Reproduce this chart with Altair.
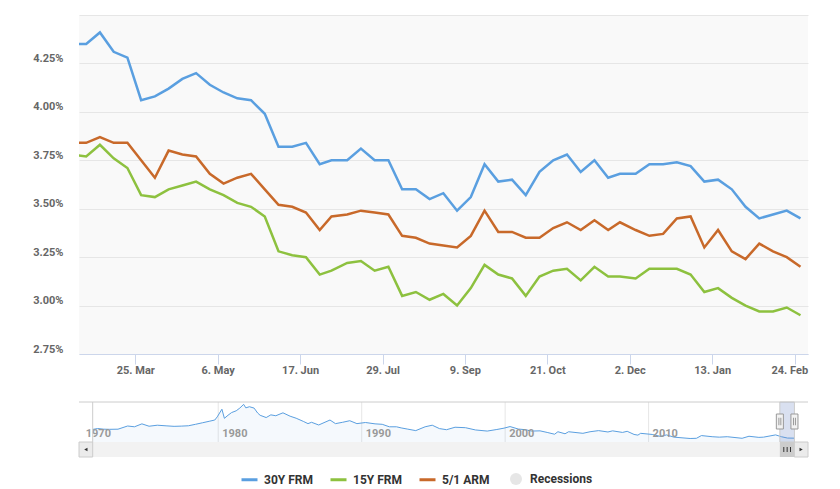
import altair as alt
import pandas as pd

# ---------------- data ----------------
week_dates = [
    "2019-02-21", "2019-02-28", "2019-03-07", "2019-03-14", "2019-03-21", "2019-03-28",
    "2019-04-04", "2019-04-11", "2019-04-18", "2019-04-25", "2019-05-02", "2019-05-09",
    "2019-05-16", "2019-05-23", "2019-05-30", "2019-06-06", "2019-06-13", "2019-06-20",
    "2019-06-27", "2019-07-03", "2019-07-11", "2019-07-18", "2019-07-25", "2019-08-01",
    "2019-08-08", "2019-08-15", "2019-08-22", "2019-08-29", "2019-09-05", "2019-09-12",
    "2019-09-19", "2019-09-26", "2019-10-03", "2019-10-10", "2019-10-17", "2019-10-24",
    "2019-10-31", "2019-11-07", "2019-11-14", "2019-11-21", "2019-11-27", "2019-12-05",
    "2019-12-12", "2019-12-19", "2019-12-26", "2020-01-02", "2020-01-09", "2020-01-16",
    "2020-01-23", "2020-01-30", "2020-02-06", "2020-02-13", "2020-02-20", "2020-02-27",
]
rate_30y = [
    4.35, 4.35, 4.41, 4.31, 4.28, 4.06, 4.08, 4.12, 4.17, 4.20, 4.14, 4.10,
    4.07, 4.06, 3.99, 3.82, 3.82, 3.84, 3.73, 3.75, 3.75, 3.81, 3.75, 3.75,
    3.60, 3.60, 3.55, 3.58, 3.49, 3.56, 3.73, 3.64, 3.65, 3.57, 3.69, 3.75,
    3.78, 3.69, 3.75, 3.66, 3.68, 3.68, 3.73, 3.73, 3.74, 3.72, 3.64, 3.65,
    3.60, 3.51, 3.45, 3.47, 3.49, 3.45,
]
rate_15y = [
    3.78, 3.77, 3.83, 3.76, 3.71, 3.57, 3.56, 3.60, 3.62, 3.64, 3.60, 3.57,
    3.53, 3.51, 3.46, 3.28, 3.26, 3.25, 3.16, 3.18, 3.22, 3.23, 3.18, 3.20,
    3.05, 3.07, 3.03, 3.06, 3.00, 3.09, 3.21, 3.16, 3.14, 3.05, 3.15, 3.18,
    3.19, 3.13, 3.20, 3.15, 3.15, 3.14, 3.19, 3.19, 3.19, 3.16, 3.07, 3.09,
    3.04, 3.00, 2.97, 2.97, 2.99, 2.95,
]
rate_51arm = [
    3.84, 3.84, 3.87, 3.84, 3.84, 3.75, 3.66, 3.80, 3.78, 3.77, 3.68, 3.63,
    3.66, 3.68, 3.60, 3.52, 3.51, 3.48, 3.39, 3.46, 3.47, 3.49, 3.48, 3.47,
    3.36, 3.35, 3.32, 3.31, 3.30, 3.36, 3.49, 3.38, 3.38, 3.35, 3.35, 3.40,
    3.43, 3.39, 3.44, 3.39, 3.43, 3.39, 3.36, 3.37, 3.45, 3.46, 3.30, 3.39,
    3.28, 3.24, 3.32, 3.28, 3.25, 3.20,
]
series_names = ["30Y FRM", "15Y FRM", "5/1 ARM"]
series_colors = ["#5a9fe0", "#8dc13f", "#c8692a"]
recession_names = ["Recessions"]
recession_colors = ["#e6e6e6"]

x_tick_dates = ["2019-03-25", "2019-05-06", "2019-06-17", "2019-07-29", "2019-09-09",
                "2019-10-21", "2019-12-02", "2020-01-13", "2020-02-24"]
y_tick_values = [2.75, 3.00, 3.25, 3.50, 3.75, 4.00, 4.25, 4.50]

# visible window of the main chart (selected range in the navigator)
view_start = "2019-02-24T08:00:00"
view_end = "2020-03-01T20:00:00"

# navigator: 30Y FRM long history
nav_dates = [
    "1971-04-02", "1971-08-06", "1972-01-07", "1972-06-02", "1973-01-05", "1973-09-07",
    "1974-03-01", "1974-09-06", "1975-03-07", "1975-10-03", "1976-06-04", "1976-12-03",
    "1977-06-03", "1977-12-02", "1978-06-02", "1978-12-01", "1979-06-01", "1979-10-05",
    "1979-12-07", "1980-04-04", "1980-06-06", "1980-09-05", "1980-12-05", "1981-04-03",
    "1981-07-03", "1981-10-09", "1981-12-04", "1982-03-05", "1982-07-02", "1982-10-01",
    "1982-12-03", "1983-05-06", "1983-09-02", "1984-01-06", "1984-07-06", "1985-01-04",
    "1985-06-07", "1985-12-06", "1986-04-04", "1986-07-04", "1987-01-02", "1987-10-16",
    "1988-03-04", "1988-09-02", "1989-03-03", "1989-09-01", "1990-04-06", "1990-12-07",
    "1991-06-07", "1991-12-06", "1992-06-05", "1992-10-02", "1993-03-05", "1993-10-08",
    "1994-06-03", "1994-12-02", "1995-06-02", "1995-12-01", "1996-07-05", "1997-03-28",
    "1997-12-05", "1998-10-02", "1999-06-04", "1999-12-03", "2000-05-05", "2000-12-01",
    "2001-06-01", "2001-11-02", "2002-06-07", "2002-12-06", "2003-06-13", "2003-09-05",
    "2004-03-05", "2004-06-04", "2005-06-03", "2005-12-02", "2006-07-07", "2007-03-02",
    "2007-06-29", "2008-03-07", "2008-07-04", "2008-12-26", "2009-04-03", "2009-06-12",
    "2010-04-02", "2010-11-05", "2011-04-01", "2011-10-07", "2012-11-23", "2013-05-03",
    "2013-09-06", "2014-06-06", "2014-12-05", "2015-06-26", "2016-07-08", "2016-12-30",
    "2017-09-08", "2018-01-05", "2018-11-08", "2019-04-04", "2019-09-05", "2020-02-27",
]
nav_30y = [
    7.33, 7.73, 7.44, 7.38, 7.44, 8.85,
    8.50, 9.80, 8.75, 9.20, 8.90, 8.70,
    8.80, 8.95, 9.60, 10.30, 11.00, 11.50,
    12.90, 16.30, 12.25, 13.60, 14.80, 15.60,
    16.80, 18.45, 16.90, 17.40, 16.80, 14.60,
    13.60, 12.60, 13.80, 13.40, 14.70, 13.20,
    12.30, 10.90, 9.90, 10.50, 9.30, 11.50,
    9.90, 10.50, 11.20, 9.90, 10.40, 9.80,
    9.60, 8.50, 8.50, 8.00, 7.50, 6.80,
    8.50, 9.20, 7.70, 7.20, 8.30, 8.10,
    7.10, 6.60, 7.30, 7.90, 8.60, 7.50,
    7.20, 6.60, 6.70, 6.00, 5.20, 6.30,
    5.40, 6.30, 5.60, 6.30, 6.80, 6.20,
    6.70, 6.00, 6.50, 5.10, 4.80, 5.60,
    5.10, 4.20, 4.90, 3.90, 3.31, 3.40,
    4.60, 4.10, 3.90, 4.10, 3.40, 4.30,
    3.80, 3.90, 4.90, 4.10, 3.50, 3.45,
]
nav_label_years = [1970, 1980, 1990, 2000, 2010]
nav_y_domain = [1.75, 19.5]

# ---------------- tables ----------------
rows = []
for name, vals in zip(series_names, [rate_30y, rate_15y, rate_51arm]):
    for d, v in zip(week_dates, vals):
        rows.append({"date": d + "T00:00:00", "series": name, "rate": v})
main_df = pd.DataFrame(rows)

nav_df = pd.DataFrame({"date": [d + "T00:00:00" for d in nav_dates], "rate": nav_30y})
years_df = pd.DataFrame({"year": [str(y) for y in nav_label_years],
                         "yr": nav_label_years,
                         "date": [f"{y}-01-01T00:00:00" for y in nav_label_years]})
mid = pd.Timestamp(view_start) + (pd.Timestamp(view_end) - pd.Timestamp(view_start)) / 2
sel_df = pd.DataFrame({"start": [view_start], "end": [view_end],
                       "mid": [mid.strftime("%Y-%m-%dT%H:%M:%S")]})
edge_df = pd.DataFrame({"date": [nav_dates[0] + "T00:00:00"]})
handles_df = pd.DataFrame({"date": [view_start, view_end]})
rec_df = pd.DataFrame({"name": recession_names})
one = pd.DataFrame({"a": [0]})


def dt(s):
    t = pd.Timestamp(s)
    return alt.DateTime(year=t.year, month=t.month, date=t.day, hours=t.hour, minutes=t.minute)


W, H = 729, 339
FONT = "Roboto"
NAV_RANGE_X = [13.7, 715.3]
NAV_RANGE_Y = [427, 387]


def nav_x(field="date:T", clamp=False):
    return alt.X(field, axis=None,
                 scale=alt.Scale(domain=[dt(nav_dates[0]), dt(nav_dates[-1])],
                                 range=NAV_RANGE_X, clamp=clamp))


def nav_yscale():
    return alt.Scale(domain=nav_y_domain, range=NAV_RANGE_Y, zero=False, nice=False)


LEG_COMMON = dict(title=None, orient="none", direction="horizontal",
                  labelFont=FONT, labelFontSize=12, labelFontWeight="bold",
                  labelColor="#333333")

# ---------------- main chart ----------------
lines = alt.Chart(main_df).mark_line(strokeWidth=2.5, clip=True).encode(
    x=alt.X("date:T",
            scale=alt.Scale(domain=[dt(view_start), dt(view_end)]),
            axis=alt.Axis(values=[dt(d) for d in x_tick_dates], format="%-d. %b",
                          title=None, grid=False, domainColor="#ccd6eb",
                          tickColor="#ccd6eb", tickSize=10, labelPadding=0,
                          labelOverlap=False, labelFlush=15, labelFlushOffset=13)),
    y=alt.Y("rate:Q",
            scale=alt.Scale(domain=[2.75, 4.5], zero=False, nice=False),
            axis=alt.Axis(values=y_tick_values,
                          labelExpr="datum.value >= 4.5 ? '' : format(datum.value, '.2f') + '%'",
                          title=None, grid=True, gridColor="#e6e6e6", domain=False,
                          ticks=False, tickSize=0, labelPadding=16,
                          labelBaseline="alphabetic", labelOffset=-2,
                          labelOverlap=False)),
    color=alt.Color("series:N", scale=alt.Scale(domain=series_names, range=series_colors),
                    legend=alt.Legend(legendX=161, legendY=455, symbolType="stroke",
                                      symbolSize=256, symbolStrokeWidth=3,
                                      labelOffset=5, columnPadding=11, **LEG_COMMON)),
    order=alt.Order("date:T"),
)

# legend-only entry for recessions (no recession inside the shown window)
recessions = alt.Chart(rec_df).mark_point(filled=True, opacity=1, size=144).encode(
    x=alt.value(-500), y=alt.value(-500),
    fill=alt.Fill("name:N", scale=alt.Scale(domain=recession_names, range=recession_colors),
                  legend=alt.Legend(legendX=431, legendY=458, symbolType="circle",
                                    symbolSize=144, symbolStrokeWidth=0,
                                    labelOffset=8, **LEG_COMMON)),
)

# ---------------- navigator ----------------
nav_area = alt.Chart(nav_df).mark_area(color="#5a9fe0", opacity=0.06).encode(
    x=nav_x(),
    y=alt.Y("rate:Q", scale=nav_yscale(), axis=None),
    y2=alt.Y2(datum=nav_y_domain[0]),
)
nav_line = alt.Chart(nav_df).mark_line(color="#5a9fe0", strokeWidth=1).encode(
    x=nav_x(),
    y=alt.Y("rate:Q", scale=nav_yscale(), axis=None),
)
nav_grid = alt.Chart(years_df).transform_filter("datum.yr > 1971").mark_rule(
    color="#e6e6e6", strokeWidth=1).encode(
    x=nav_x(),
    y=alt.Y(datum=nav_y_domain[1], type="quantitative", scale=nav_yscale(), axis=None),
    y2=alt.Y2(datum=nav_y_domain[0]),
)
nav_edge = alt.Chart(edge_df).mark_rule(color="#cccccc", strokeWidth=1).encode(
    x=nav_x(),
    y=alt.Y(datum=nav_y_domain[1], type="quantitative", scale=nav_yscale(), axis=None),
    y2=alt.Y2(datum=nav_y_domain[0]),
)
nav_top = alt.Chart(one).mark_rule(color="#cccccc", strokeWidth=1).encode(
    x=alt.value(0), x2=alt.value(W), y=alt.value(NAV_RANGE_Y[1]))
nav_labels = alt.Chart(years_df).transform_filter("datum.yr > 1971").mark_text(
    align="left", baseline="middle", dx=4, font=FONT, fontSize=11, fontWeight="bold",
    color="#999999").encode(x=nav_x(), y=alt.value(419), text=alt.Text("year:N"))
nav_label_first = alt.Chart(years_df).transform_filter("datum.yr < 1971").mark_text(
    align="left", baseline="middle", dx=-7, font=FONT, fontSize=11, fontWeight="bold",
    color="#999999").encode(x=nav_x(clamp=True), y=alt.value(419), text=alt.Text("year:N"))

mask = alt.Chart(sel_df).mark_rect(fill="#6685c2", fillOpacity=0.25, stroke="#cccccc",
                                   strokeWidth=1).encode(
    x=nav_x("start:T"), x2="end:T",
    y=alt.Y(datum=nav_y_domain[1], type="quantitative", scale=nav_yscale(), axis=None),
    y2=alt.Y2(datum=nav_y_domain[0]),
)

# scrollbar
track = alt.Chart(one).mark_rect(fill="#f2f2f2").encode(
    x=alt.value(0), x2=alt.value(W), y=alt.value(427), y2=alt.value(442))
btn_left = alt.Chart(one).mark_rect(fill="#ebebeb", stroke="#cccccc", strokeWidth=1).encode(
    x=alt.value(0), x2=alt.value(NAV_RANGE_X[0]), y=alt.value(427), y2=alt.value(442))
btn_right = alt.Chart(one).mark_rect(fill="#ebebeb", stroke="#cccccc", strokeWidth=1).encode(
    x=alt.value(NAV_RANGE_X[1]), x2=alt.value(W), y=alt.value(427), y2=alt.value(442))
arrow_left = alt.Chart(one).mark_point(shape="triangle-left", filled=True, size=14,
                                       color="#333333", opacity=1).encode(
    x=alt.value(NAV_RANGE_X[0] / 2), y=alt.value(434.5))
arrow_right = alt.Chart(one).mark_point(shape="triangle-right", filled=True, size=14,
                                        color="#333333", opacity=1).encode(
    x=alt.value((NAV_RANGE_X[1] + W) / 2), y=alt.value(434.5))
thumb = alt.Chart(sel_df).mark_rect(fill="#cccccc").encode(
    x=nav_x("start:T"), x2="end:T", y=alt.value(427), y2=alt.value(442))
thumb_grip = alt.Chart(sel_df).mark_point(
    shape="M-0.67,-0.5L-0.67,0.5M0,-0.5L0,0.5M0.67,-0.5L0.67,0.5",
    size=100, stroke="#333333", strokeWidth=1, filled=False, opacity=1).encode(
    x=nav_x("mid:T"), y=alt.value(434.5))
handles = alt.Chart(handles_df).mark_point(
    shape="M-0.47,-1L0.47,-1L0.47,1L-0.47,1Z M-0.13,-0.5L-0.13,0.5 M0.13,-0.5L0.13,0.5",
    size=225, fill="#f2f2f2", stroke="#999999", strokeWidth=1, filled=True,
    opacity=1).encode(x=nav_x(), y=alt.value(406.5))

chart = alt.layer(
    lines, recessions,
    nav_grid, nav_area, nav_line, nav_labels, nav_label_first, nav_top, nav_edge, mask,
    track, btn_left, btn_right, arrow_left, arrow_right, thumb, thumb_grip, handles,
).resolve_scale(x="independent", y="independent").properties(
    width=W, height=H,
    autosize=alt.AutoSizeParams(type="none"),
    padding={"left": 79, "top": 15, "right": 32, "bottom": 135},
    background="#ffffff",
).configure_view(
    fill="#f9f9f9", stroke=None,
).configure_axis(
    labelFont=FONT, labelFontSize=11, labelFontWeight="bold", labelColor="#666666",
)

chart.save("out.html", embed_options={"renderer": "svg", "actions": False})
